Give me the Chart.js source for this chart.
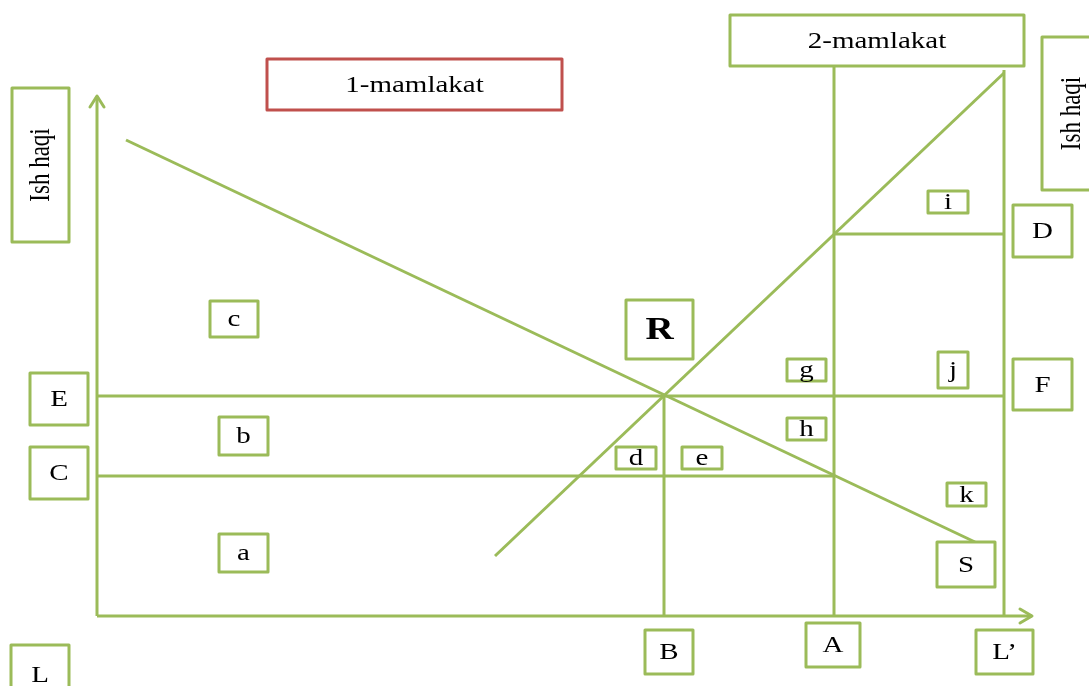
<!DOCTYPE html>
<html>
<head>
<meta charset="utf-8">
<script src="https://cdn.jsdelivr.net/npm/chart.js@4/dist/chart.umd.min.js"></script>
<style>
  html, body { margin: 0; padding: 0; background: #fff; }
  #wrap { width: 1089px; height: 686px; }
</style>
</head>
<body>
<div id="wrap"><canvas id="diagram" width="1089" height="686"></canvas></div>
<script>
// --- values (origin = where the two axes meet) ---
const demandLine = [[29, 476], [878, 74]];   // 1-mamlakat labour demand
const supplyLine = [[398, 60], [907, 543]];  // supply curve
const wageLevels = { E: 220, C: 140, D: 382 };
const labourLevels = { B: 567, A: 737, L: 907 };
const axisEnds = { x: 935, y: 520 };
const topOfA = 550;
const topOfL = 546;

// box captions
const axisCaptions = ['Ish haqi', '1-mamlakat', '2-mamlakat', 'Ish haqi', 'L', 'E', 'C', 'D', 'F', 'B', 'A', 'L\u2019'];
const areaCaptions = ['c', 'b', 'a', 'R', 'd', 'e', 'g', 'h', 'i', 'j', 'k', 'S'];

// where each caption box sits: centre (data units), size (px)
const captionLayout = [
  { cx: -56.5, cy: 451, w: 57, h: 154, rotate: true },
  { cx: 317.5, cy: 531.5, w: 295, h: 51, red: true },
  { cx: 780, cy: 575.5, w: 294, h: 51 },
  { cx: 974, cy: 502.5, w: 58, h: 153, rotate: true },
  { cx: -57, cy: -59, w: 58, h: 60 },
  { cx: -38, cy: 217, w: 58, h: 52 },
  { cx: -38, cy: 143, w: 58, h: 52 },
  { cx: 945.5, cy: 385, w: 59, h: 52 },
  { cx: 945.5, cy: 231.5, w: 59, h: 51 },
  { cx: 572, cy: -36, w: 48, h: 44 },
  { cx: 736, cy: -29, w: 54, h: 44 },
  { cx: 907.5, cy: -36, w: 57, h: 44 },
  // areas
  { cx: 137, cy: 297, w: 48, h: 36 },
  { cx: 146.5, cy: 180, w: 49, h: 38 },
  { cx: 146.5, cy: 63, w: 49, h: 38 },
  { cx: 562.5, cy: 286.5, w: 67, h: 59, bold: true },
  { cx: 539, cy: 158, w: 40, h: 22 },
  { cx: 605, cy: 158, w: 40, h: 22 },
  { cx: 709.5, cy: 246, w: 39, h: 22 },
  { cx: 709.5, cy: 187, w: 39, h: 22 },
  { cx: 851, cy: 414, w: 40, h: 22 },
  { cx: 856, cy: 246, w: 30, h: 36 },
  { cx: 869.5, cy: 121.5, w: 39, h: 23 },
  { cx: 869, cy: 51.5, w: 58, h: 45 }
];

const GREEN = '#9BBB59';
const RED = '#C0504D';
const STRETCH = 1.26; // the picture is widened horizontally

function seg(points) {
  return {
    data: points.map(p => ({ x: p[0], y: p[1] })),
    showLine: true,
    borderColor: GREEN,
    borderWidth: 3,
    pointRadius: 0,
    fill: false
  };
}

const datasets = [
  seg([[0, 0], [0, axisEnds.y]]),
  seg([[0, 0], [axisEnds.x, 0]]),
  seg(demandLine),
  seg(supplyLine),
  seg([[0, wageLevels.E], [labourLevels.L, wageLevels.E]]),
  seg([[0, wageLevels.C], [labourLevels.A, wageLevels.C]]),
  seg([[labourLevels.A, wageLevels.D], [labourLevels.L, wageLevels.D]]),
  seg([[labourLevels.B, 0], [labourLevels.B, wageLevels.E]]),
  seg([[labourLevels.A, 0], [labourLevels.A, topOfA]]),
  seg([[labourLevels.L, 0], [labourLevels.L, topOfL]])
];

const captionPlugin = {
  id: 'captions',
  afterDatasetsDraw(chart) {
    const { ctx, scales: { x, y } } = chart;
    ctx.save();
    ctx.strokeStyle = GREEN;
    ctx.lineWidth = 3;
    ctx.lineCap = 'round';
    ctx.lineJoin = 'round';

    // arrowheads on both axes
    const ox = x.getPixelForValue(0), oy = y.getPixelForValue(0);
    const ty = y.getPixelForValue(axisEnds.y);
    const tx = x.getPixelForValue(axisEnds.x);
    ctx.beginPath();
    ctx.moveTo(ox - 7, ty + 11); ctx.lineTo(ox, ty); ctx.lineTo(ox + 7, ty + 11);
    ctx.moveTo(tx - 12, oy - 7); ctx.lineTo(tx, oy); ctx.lineTo(tx - 12, oy + 7);
    ctx.stroke();

    const captions = axisCaptions.concat(areaCaptions);
    captions.forEach((text, i) => {
      const b = captionLayout[i];
      const cx = x.getPixelForValue(b.cx);
      const cy = y.getPixelForValue(b.cy);
      ctx.fillStyle = '#fff';
      ctx.fillRect(cx - b.w / 2, cy - b.h / 2, b.w, b.h);
      ctx.strokeStyle = b.red ? RED : GREEN;
      ctx.lineWidth = 3;
      ctx.strokeRect(cx - b.w / 2, cy - b.h / 2, b.w, b.h);

      ctx.save();
      ctx.translate(cx, cy);
      ctx.scale(STRETCH, 1);
      if (b.rotate) ctx.rotate(-Math.PI / 2);
      ctx.fillStyle = '#000';
      ctx.font = b.bold ? 'bold 31px "Liberation Serif"' : '23px "Liberation Serif"';
      ctx.textAlign = 'center';
      ctx.textBaseline = 'middle';
      ctx.fillText(text, 0, 1);
      ctx.restore();
    });
    ctx.restore();
  }
};

new Chart(document.getElementById('diagram'), {
  type: 'scatter',
  data: { datasets: datasets },
  options: {
    responsive: false,
    animation: false,
    layout: { padding: 0 },
    scales: {
      x: { type: 'linear', min: -97, max: 992, display: false },
      y: { type: 'linear', min: -70, max: 616, display: false }
    },
    plugins: { legend: { display: false }, tooltip: { enabled: false } }
  },
  plugins: [captionPlugin]
});
</script>
</body>
</html>
